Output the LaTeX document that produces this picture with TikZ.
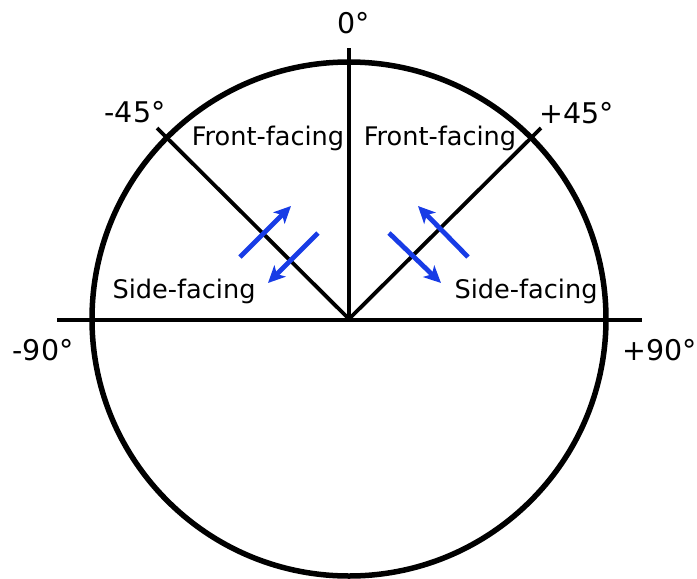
\documentclass[tikz,border=0pt]{standalone}
\usepackage{fontspec}
\setmainfont{DejaVu Sans}
\usetikzlibrary{arrows.meta}
\definecolor{arrowblue}{RGB}{24,60,230}
\tikzset{
  radial/.style={line width=3.8pt, line cap=butt},
  facing/.style={font=\fontsize{25.6}{30}\selectfont, inner sep=0pt, anchor=base},
  deg/.style={font=\fontsize{28.5}{32}\selectfont, inner sep=0pt, anchor=base},
  bluearrow/.style={draw=arrowblue, line width=4.8pt, -{Stealth[length=17pt,width=16pt,inset=4.5pt]}}
}
\begin{document}
\begin{tikzpicture}[x=1pt,y=-1pt]
\useasboundingbox (0,0) rectangle (697,579);
\coordinate (c) at (349,319);
\coordinate (top) at (349,48);
\coordinate (ul) at (157,128);
\coordinate (ur) at (541,128);
\coordinate (hl) at (57,320);
\coordinate (hr) at (642,320);
\draw[line width=5.5pt] (c) circle[radius=257];
\draw[radial] (hl) -- (hr);
\draw[radial] (c) -- (top);
\draw[radial] (c) -- (ul);
\draw[radial] (c) -- (ur);
% arrows
\coordinate (a1s) at (240,257); \coordinate (a1e) at (291,206);
\coordinate (a2s) at (318,233); \coordinate (a2e) at (268,283);
\coordinate (b1s) at (468,257); \coordinate (b1e) at (418,206);
\coordinate (b2s) at (389,233); \coordinate (b2e) at (441,283);
\draw[bluearrow] (a1s) -- (a1e);
\draw[bluearrow] (a2s) -- (a2e);
\draw[bluearrow] (b1s) -- (b1e);
\draw[bluearrow] (b2s) -- (b2e);
% labels
\node[facing] (ffl) at (268,145) {Front-facing};
\node[facing] (ffr) at (440,145) {Front-facing};
\node[facing] (sfl) at (184,298) {Side-facing};
\node[facing] (sfr) at (526,298) {Side-facing};
\node[deg] (d0) at (354,33) {0°};
\node[deg] (dm45) at (135,122) {-45°};
\node[deg] (dp45) at (577,123) {+45°};
\node[deg] (dm90) at (43,360) {-90°};
\node[deg] (dp90) at (660,360) {+90°};
\end{tikzpicture}
\end{document}
